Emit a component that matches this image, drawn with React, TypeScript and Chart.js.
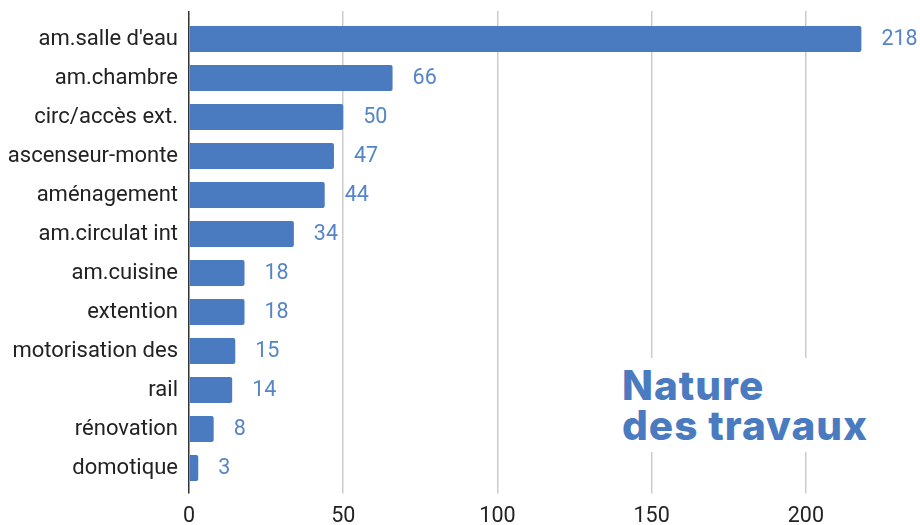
import React, { useEffect, useRef } from "react";
import { Chart, registerables } from "chart.js";

Chart.register(...registerables);

const categories: string[] = [
  "am.salle d'eau",
  "am.chambre",
  "circ/accès ext.",
  "ascenseur-monte",
  "aménagement",
  "am.circulat int",
  "am.cuisine",
  "extention",
  "motorisation des",
  "rail",
  "rénovation",
  "domotique",
];
const values: number[] = [218, 66, 50, 47, 44, 34, 18, 18, 15, 14, 8, 3];
const xTicks: number[] = [0, 50, 100, 150, 200];
const titleLines: string[] = ["Nature", "des travaux"];

const BAR = "#4a7bc0";
const LABEL = "#5585c8";
const FONT = "Roboto, 'Liberation Sans', Arial, sans-serif";

const gridColor = (ctx: any) => (ctx.tick && ctx.tick.value === 0 ? "#333333" : "#cccccc");

const valueLabels = {
  id: "valueLabels",
  afterDatasetsDraw(chart: any) {
    const ctx = chart.ctx;
    const meta = chart.getDatasetMeta(0);
    ctx.save();
    ctx.font = `21.5px ${FONT}`;
    ctx.fillStyle = LABEL;
    ctx.textAlign = "left";
    ctx.textBaseline = "middle";
    meta.data.forEach((bar: any, i: number) => {
      ctx.fillText(String(values[i]), bar.x + 20, bar.y + 1);
    });
    ctx.restore();
  },
};

export default function App() {
  const ref = useRef<HTMLCanvasElement | null>(null);
  useEffect(() => {
    if (!ref.current) return;
    const chart = new Chart(ref.current, {
      type: "bar",
      data: {
        labels: categories,
        datasets: [
          {
            data: values,
            backgroundColor: BAR,
            borderRadius: 2,
            borderSkipped: "start",
            barPercentage: 0.667,
            categoryPercentage: 1,
          },
        ],
      },
      options: {
        indexAxis: "y",
        animation: false,
        responsive: true,
        maintainAspectRatio: false,
        layout: { padding: { top: 11, right: 0, left: 0, bottom: 0 } },
        plugins: { legend: { display: false }, tooltip: { enabled: false } },
        scales: {
          x: {
            type: "linear",
            position: "bottom",
            min: 0,
            max: 237,
            afterBuildTicks: (scale: any) => {
              scale.ticks = xTicks.map((v) => ({ value: v }));
            },
            afterFit: (scale: any) => {
              scale.height = 37.5;
            },
            ticks: {
              includeBounds: false,
              color: "#222222",
              font: { family: FONT, size: 21.5 },
              padding: 10,
            },
            grid: { color: gridColor, lineWidth: 1.5, tickLength: 6, drawTicks: true },
            border: { display: false },
          },
          x2: {
            type: "linear",
            position: "top",
            min: 0,
            max: 237,
            afterBuildTicks: (scale: any) => {
              scale.ticks = xTicks.map((v) => ({ value: v }));
            },
            afterFit: (scale: any) => {
              scale.height = 8.5;
            },
            ticks: { display: false },
            grid: { color: gridColor, lineWidth: 1.5, drawOnChartArea: false, tickLength: 8.5, drawTicks: true },
            border: { display: false },
          },
          y: {
            type: "category",
            afterFit: (scale: any) => {
              scale.width = 189;
              scale.paddingTop = 0;
              scale.paddingBottom = 0;
            },
            ticks: {
              color: "#222222",
              font: { family: FONT, size: 22 },
              padding: 0,
            },
            grid: { display: false, drawTicks: true, tickLength: 11 },
            border: { display: false },
          },
        },
      },
      plugins: [valueLabels],
    } as any);
    return () => chart.destroy();
  }, []);

  return (
    <div style={{ position: "fixed", left: 0, top: 0, width: 920, height: 525, background: "#ffffff" }}>
      <canvas ref={ref} />
      <div
        style={{
          position: "absolute",
          left: 616,
          top: 358,
          padding: "8px 8px 6px 6px",
          background: "#ffffff",
          color: BAR,
          fontFamily: "Inter, 'Open Sans', sans-serif",
          fontWeight: 800,
          fontSize: 40.5,
          lineHeight: "40px",
          letterSpacing: "1px",
          whiteSpace: "nowrap",
        }}
      >
        {titleLines.map((t) => (
          <div key={t}>{t}</div>
        ))}
      </div>
    </div>
  );
}
